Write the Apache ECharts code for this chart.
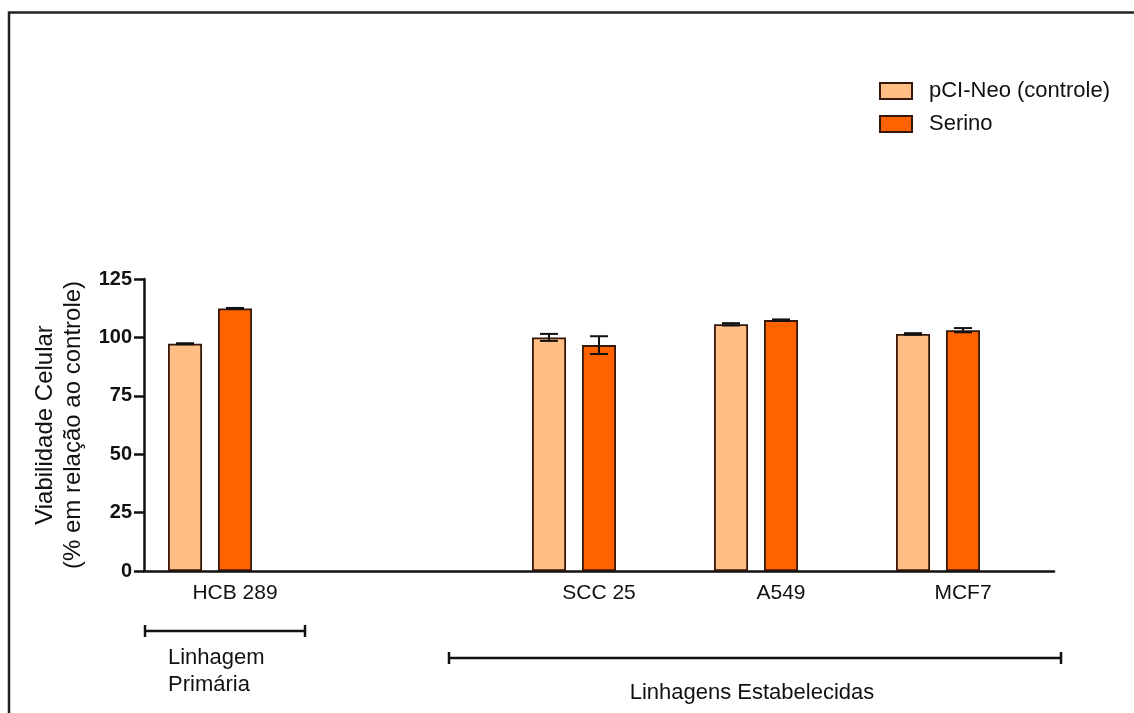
<!DOCTYPE html>
<html>
<head>
<meta charset="utf-8">
<script src="https://cdn.jsdelivr.net/npm/echarts@6/dist/echarts.min.js"></script>
<style>
  html, body { margin: 0; padding: 0; background: #fff; }
  #chart { width: 1134px; height: 713px; }
</style>
</head>
<body>
<div id="chart"></div>
<script>
// Cell lines (the empty slot separates the primary line from the established ones)
const categories = ['HCB 289', '', 'SCC 25', 'A549', 'MCF7'];

// Cell viability, % of control
const controle    = [97.3, null, 100.0, 105.6, 101.5];
const controleErr = [0.2,  null, 1.5,   0.5,   0.3];
const serino      = [112.4, null, 96.7, 107.4, 103.1];
const serinoErr   = [0.2,  null, 3.8,   0.3,   0.9];

const seriesNames = ['pCI-Neo (controle)', 'Serino'];
const yMin = 0, yMax = 125, yStep = 25;

// Layout / style constants
const FONT = 'Liberation Sans, Arial, sans-serif';
const BAR_W = 34;
const BAR_GAP = 0.47;                 // fraction of bar width
const BAR_SHIFT = BAR_W * (1 + BAR_GAP);
const CAP_HALF = 9;
const LIGHT = '#FFBE84';
const DARK = '#FF6200';
const EDGE = '#35180a';

function errorSeries(values, errs, shift) {
  const data = [];
  values.forEach((v, i) => { if (v != null) data.push([i, v, errs[i]]); });
  return {
    type: 'custom',
    silent: true,
    z: 5,
    data: data,
    renderItem(params, api) {
      const i = api.value(0), v = api.value(1), e = api.value(2);
      const hi = api.coord([i, v + e]);
      const lo = api.coord([i, v - e]);
      const x = hi[0] + shift;
      const st = { stroke: '#111', lineWidth: 2 };
      return {
        type: 'group',
        children: [
          { type: 'line', shape: { x1: x, y1: hi[1], x2: x, y2: lo[1] }, style: st },
          { type: 'line', shape: { x1: x - CAP_HALF, y1: hi[1], x2: x + CAP_HALF, y2: hi[1] }, style: st },
          { type: 'line', shape: { x1: x - CAP_HALF, y1: lo[1], x2: x + CAP_HALF, y2: lo[1] }, style: st }
        ]
      };
    }
  };
}

const chart = echarts.init(document.getElementById('chart'), null, { renderer: 'canvas' });

chart.setOption({
  backgroundColor: '#fff',
  animation: false,
  grid: { left: 144, right: 80, top: 279, bottom: 142, containLabel: false },
  legend: {
    data: seriesNames,
    orient: 'vertical',
    left: 879,
    top: 80,
    padding: 0,
    itemWidth: 32,
    itemHeight: 16,
    itemGap: 11,
    icon: 'rect',
    textStyle: { fontFamily: FONT, fontSize: 22, color: '#111', padding: [0, 0, 0, 12] }
  },
  xAxis: {
    type: 'category',
    data: categories,
    axisLine: { lineStyle: { color: '#111', width: 2.5 } },
    axisTick: { alignWithLabel: true, length: 9, lineStyle: { color: '#111', width: 2.5 } },
    axisLabel: { interval: 0, margin: 12, fontFamily: FONT, fontSize: 21, color: '#111' }
  },
  yAxis: {
    type: 'value',
    min: yMin, max: yMax, interval: yStep,
    name: 'Viabilidade Celular\n(% em relação ao controle)',
    nameLocation: 'middle',
    nameGap: 56,
    nameTextStyle: { fontFamily: FONT, fontSize: 24, color: '#111', lineHeight: 28 },
    axisLine: { show: true, lineStyle: { color: '#111', width: 2.5 } },
    axisTick: { show: true, length: 10, lineStyle: { color: '#111', width: 2.5 } },
    axisLabel: { margin: 12, fontFamily: FONT, fontSize: 20, fontWeight: 'bold', color: '#111' },
    splitLine: { show: false }
  },
  series: [
    {
      name: seriesNames[0], type: 'bar', data: controle,
      barWidth: BAR_W, barGap: (BAR_GAP * 100) + '%',
      itemStyle: { color: LIGHT, borderColor: EDGE, borderWidth: 1.8 }
    },
    {
      name: seriesNames[1], type: 'bar', data: serino,
      barWidth: BAR_W, barGap: (BAR_GAP * 100) + '%',
      itemStyle: { color: DARK, borderColor: EDGE, borderWidth: 1.8 }
    },
    {
      // empty slot so that each tick sits under the Serino bar
      id: 'spacer', type: 'bar', data: categories.map(() => null),
      barWidth: BAR_W, barGap: (BAR_GAP * 100) + '%', silent: true
    },
    errorSeries(controle, controleErr, -BAR_SHIFT),
    errorSeries(serino, serinoErr, 0)
  ],
  graphic: [
    // figure frame
    { type: 'polyline', shape: { points: [[9, 713], [9, 12.5], [1134, 12.5]] },
      style: { stroke: '#222', lineWidth: 2.5, fill: null }, silent: true },
    // group brackets
    { type: 'group', silent: true, children: [
      { type: 'line', shape: { x1: 145, y1: 631, x2: 305, y2: 631 }, style: { stroke: '#111', lineWidth: 2.5 } },
      { type: 'line', shape: { x1: 145, y1: 625, x2: 145, y2: 637 }, style: { stroke: '#111', lineWidth: 2.5 } },
      { type: 'line', shape: { x1: 305, y1: 625, x2: 305, y2: 637 }, style: { stroke: '#111', lineWidth: 2.5 } },
      { type: 'line', shape: { x1: 449, y1: 658, x2: 1061, y2: 658 }, style: { stroke: '#111', lineWidth: 2.5 } },
      { type: 'line', shape: { x1: 449, y1: 652, x2: 449, y2: 664 }, style: { stroke: '#111', lineWidth: 2.5 } },
      { type: 'line', shape: { x1: 1061, y1: 652, x2: 1061, y2: 664 }, style: { stroke: '#111', lineWidth: 2.5 } }
    ]},
    { type: 'text', left: 168, top: 644, silent: true,
      style: { text: 'Linhagem\nPrimária', fontFamily: FONT, fontSize: 22, lineHeight: 27, fill: '#111' } },
    { type: 'text', x: 752, y: 693, silent: true,
      style: { text: 'Linhagens Estabelecidas', fontFamily: FONT, fontSize: 22, fill: '#111',
               align: 'center', verticalAlign: 'middle' } }
  ]
});
</script>
</body>
</html>
